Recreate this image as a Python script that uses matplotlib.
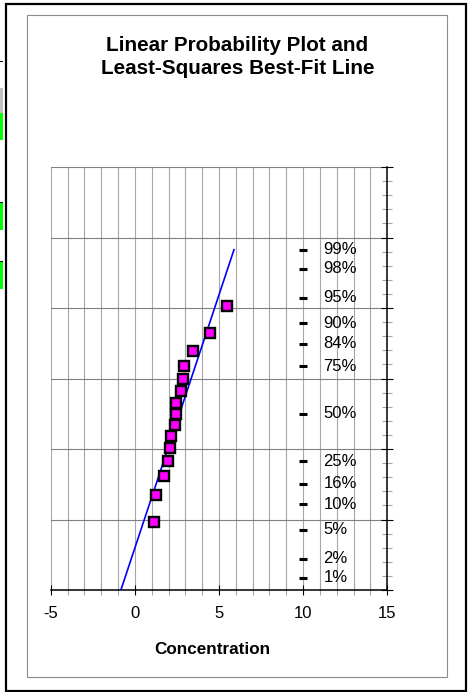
import matplotlib
matplotlib.use("Agg")
import matplotlib.pyplot as plt
from matplotlib.patches import Rectangle
from matplotlib.ticker import MultipleLocator
from statistics import NormalDist

plt.rcParams['font.family'] = ['Liberation Sans', 'DejaVu Sans']

# ---- data ----
concentration = [1.13, 1.24, 1.75, 1.95, 2.07, 2.16, 2.36, 2.46, 2.46, 2.76, 2.86, 2.94, 3.45, 4.46, 5.47]
plot_position_pct = [6.25, 12.5, 18.75, 25.0, 31.25, 37.5, 43.75, 50.0, 56.25, 62.5, 68.75, 75.0, 81.25, 87.5, 93.75]

fit_conc = [-0.83, 5.89]
fit_pct = [0.62, 99.0]

ref_pct = [1, 2, 5, 10, 16, 25, 50, 75, 84, 90, 95, 98, 99]
ref_labels = ['1%', '2%', '5%', '10%', '16%', '25%', '50%', '75%', '84%', '90%', '95%', '98%', '99%']
ref_x = 10

x_ticks = [-5, 0, 5, 10, 15]
title = "Linear Probability Plot and\nLeast-Squares Best-Fit Line"
xlabel = "Concentration"

Z_OFFSET = 2.5
nd = NormalDist()
def to_y(p):
    return nd.inv_cdf(p / 100.0) + Z_OFFSET

W, H = 469, 692
DPI = 100
fig = plt.figure(figsize=(W / DPI, H / DPI), dpi=DPI)
fig.patch.set_facecolor('white')

def fx(px):
    return px / W
def fy(py):
    return 1 - py / H

# outer black frame and inner gray frame
fig.patches.append(Rectangle((fx(5.5), fy(690.5)), fx(466) - fx(5.5), fy(3.8) - fy(690.5),
                             transform=fig.transFigure, fill=False, edgecolor='black', linewidth=1.6))
fig.patches.append(Rectangle((fx(26.5), fy(676.5)), fx(446.5) - fx(26.5), fy(14.5) - fy(676.5),
                             transform=fig.transFigure, fill=False, edgecolor='#8c8c8c', linewidth=0.8))
# spreadsheet cells peeking at the left edge
for (y0, y1, col) in [(87.7, 113.3, '#c0c0c0'), (113.3, 140, '#00ff00'), (202.5, 230, '#00ff00'), (261.5, 289, '#00ff00')]:
    fig.patches.append(Rectangle((0, fy(y1)), fx(3.3), fy(y0) - fy(y1), transform=fig.transFigure,
                                 facecolor=col, edgecolor='none'))
for yy in [60.5, 202.0, 261.0]:
    fig.patches.append(Rectangle((0, fy(yy + 1.0)), fx(3.3), fy(yy) - fy(yy + 1.0), transform=fig.transFigure,
                                 facecolor='black', edgecolor='none'))

ax = fig.add_axes([fx(50.7), fy(590), fx(387.3) - fx(50.7), fy(167) - fy(590)])
ax.set_xlim(-5, 15)
ax.set_ylim(0, 6)

ax.xaxis.set_major_locator(MultipleLocator(5))
ax.xaxis.set_minor_locator(MultipleLocator(1))
ax.yaxis.set_major_locator(MultipleLocator(1))
ax.yaxis.set_minor_locator(MultipleLocator(0.2))
ax.set_xticks(x_ticks)
ax.set_xticklabels([str(t) for t in x_ticks])

# gridlines
for xv in range(-5, 16):
    ax.axvline(xv, color='#a6a6a6', linewidth=0.8, zorder=0)
for yv in range(0, 7):
    ax.axhline(yv, color='#808080', linewidth=0.8, zorder=0)

for s in ['left', 'top']:
    ax.spines[s].set_visible(False)
ax.spines['bottom'].set_color('black')
ax.spines['bottom'].set_linewidth(1.1)
ax.spines['right'].set_color('black')
ax.spines['right'].set_linewidth(1.1)

ax.tick_params(axis='x', which='major', direction='inout', length=7, width=0.8, color='black',
               labelsize=12, pad=8)
ax.tick_params(axis='x', which='minor', direction='inout', length=7, width=0.8, color='#a6a6a6')
ax.tick_params(axis='y', which='both', left=False, right=True, labelleft=False, labelright=False)
ax.tick_params(axis='y', which='major', direction='inout', length=8, width=0.8, color='black')
ax.tick_params(axis='y', which='minor', direction='inout', length=6.5, width=0.8, color='#a6a6a6')

# fit line
ax.plot(fit_conc, [to_y(p) for p in fit_pct], color='#0000ff', linewidth=1.2, zorder=3)

# data points
ax.plot(concentration, [to_y(p) for p in plot_position_pct], linestyle='none', marker='s',
        markersize=6.5, markerfacecolor='#ff00ff', markeredgecolor='black', markeredgewidth=1.7, zorder=4)

# reference percent marks
ry = [to_y(p) for p in ref_pct]
ax.plot([ref_x] * len(ref_pct), ry, linestyle='none', marker='_', markersize=6,
        markeredgewidth=2.2, color='black', zorder=4)
for yv, lab in zip(ry, ref_labels):
    ax.annotate(lab, (ref_x, yv), xytext=(14.5, 0), textcoords='offset points',
                ha='left', va='center', fontsize=12, color='black')

fig.text(fx(237.5), fy(57), title, ha='center', va='center', fontsize=14.9, fontweight='bold',
         linespacing=1.27)
fig.text(fx(212), fy(649), xlabel, ha='center', va='center', fontsize=12.3, fontweight='bold')

fig.savefig('out.png', dpi=DPI, facecolor='white')
